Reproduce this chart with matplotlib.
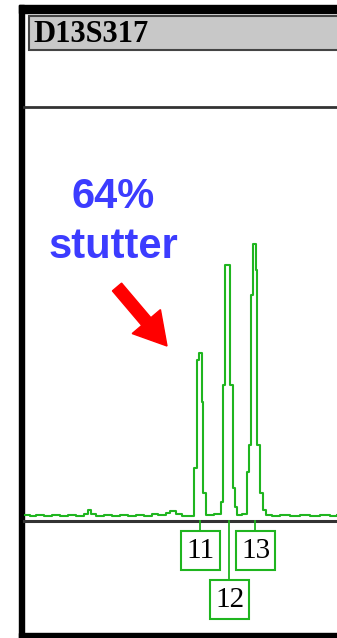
import matplotlib
matplotlib.use('agg')
import matplotlib.pyplot as plt
from matplotlib.patches import Rectangle, FancyArrow

# electropherogram trace for D13S317 (x = scan position, y = RFU)
scan = [24, 30, 36, 44, 52, 60, 68, 76, 84, 88, 91, 96, 104, 112, 120, 128,
        136, 144, 152, 158, 166, 170, 176, 182, 188,
        194, 196.7, 198.5, 201.5, 203, 206, 210, 214,
        220.7, 223, 225.3, 230, 232.7, 235, 237, 242,
        246.7, 249, 251, 253.3, 256, 257.3, 260, 263, 266,
        272, 280, 290, 300, 310, 320, 330, 337]
rfu = [24, 20, 26, 22, 26, 20, 24, 22, 30, 44, 28, 20, 26, 22, 26, 20,
       24, 22, 28, 24, 32, 40, 28, 20, 22,
       212, 644, 672, 478, 112, 24, 24, 28,
       77, 544, 1024, 544, 132, 56, 24, 28,
       197, 304, 904, 1108, 1004, 304, 112, 44, 24,
       20, 26, 22, 26, 20, 24, 22, 24]

alleles = ['11', '12', '13']
allele_scan = [200, 229, 255]
label_row = [0, 1, 0]

marker = 'D13S317'
note_lines = ['64%', 'stutter']

W, H = 337, 638
fig = plt.figure(figsize=(W / 100, H / 100), dpi=100)
bg = fig.add_axes([0, 0, 1, 1])
bg.set_xlim(0, W)
bg.set_ylim(H, 0)
bg.axis('off')

# frame
bg.add_patch(Rectangle((19, 5), W - 19, 8, color='black'))
bg.add_patch(Rectangle((19, 5), 5, H - 5, color='black'))
bg.add_patch(Rectangle((19, 633), W - 19, 5, color='black'))
bg.add_patch(Rectangle((29, 16), W - 29 + 2, 34, facecolor='#c8c8c8',
                       edgecolor='#444444', lw=1.5))
bg.text(33, 34, marker, family='Liberation Serif', weight='bold',
        fontsize=22, va='center', ha='left')
bg.plot([24, W], [107, 107], color='#333333', lw=2)

# trace axes
base_y, top_y = 521, 107
ax = fig.add_axes([24 / W, (H - base_y) / H, 1 - 24 / W, (base_y - top_y) / H])
ax.set_xlim(24, W)
ax.set_ylim(0, (base_y - top_y) * 4)
ax.axis('off')
ax.plot(scan, rfu, drawstyle='steps-post', color='#1fb51f', lw=1.5)
bg.plot([24, W], [base_y, base_y], color='#333333', lw=2.2)

# allele labels
for name, x, row in zip(alleles, allele_scan, label_row):
    top = 531 + row * 49
    bg.plot([x, x], [base_y, top], color='#1fb51f', lw=1.3)
    bg.add_patch(Rectangle((x - 19, top), 39, 39, fill=False,
                           edgecolor='#1fb51f', lw=1.5))
    bg.text(x + 0.5, top + 20, name, family='Liberation Serif', fontsize=21,
            ha='center', va='center')

# annotation
for line, yb in zip(note_lines, [208, 258]):
    bg.text(113, yb, line, color='#3c3cff', family='Liberation Sans',
            weight='bold', fontsize=30, ha='center', va='baseline')
bg.add_patch(FancyArrow(117, 287, 50, 59, width=12, head_width=37,
                        head_length=32, length_includes_head=True,
                        color='#ff0000'))

fig.savefig('out.png', dpi=100)
